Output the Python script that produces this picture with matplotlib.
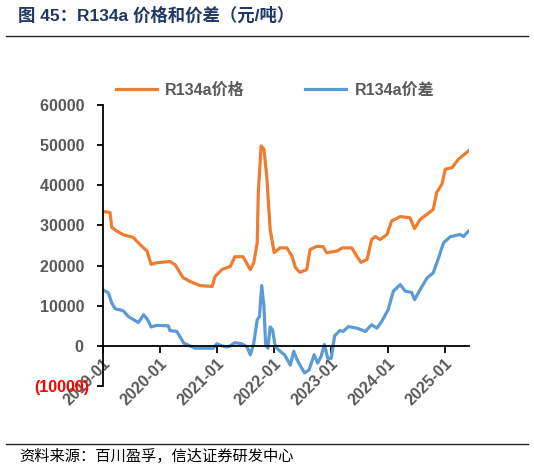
import pandas as pd
import matplotlib.pyplot as plt
import matplotlib.dates as mdates

plt.rcParams['font.family'] = ['Liberation Sans', 'Noto Sans CJK SC', 'DejaVu Sans']

# R134a价格
price_dates = ['2019-01-01', '2019-02-17', '2019-02-28', '2019-04-01', '2019-05-12', '2019-07-16',
               '2019-08-29', '2019-10-12', '2019-11-07', '2019-12-13', '2020-03-07', '2020-04-09',
               '2020-05-30', '2020-07-16', '2020-09-17', '2020-12-03', '2020-12-21', '2021-02-03',
               '2021-03-29', '2021-04-27', '2021-06-18', '2021-08-04', '2021-08-26', '2021-09-17',
               '2021-09-24', '2021-10-12', '2021-10-30', '2021-11-17', '2021-12-09', '2022-01-04',
               '2022-02-10', '2022-03-26', '2022-04-28', '2022-05-20', '2022-06-18', '2022-07-31',
               '2022-08-22', '2022-10-05', '2022-11-14', '2022-12-06', '2023-02-10', '2023-03-15',
               '2023-05-16', '2023-06-18', '2023-07-13', '2023-08-22', '2023-09-20', '2023-10-12',
               '2023-11-14', '2023-12-28', '2024-01-26', '2024-03-21', '2024-05-23', '2024-06-21',
               '2024-07-27', '2024-09-09', '2024-10-19', '2024-11-10', '2024-12-13', '2025-01-04',
               '2025-02-17', '2025-03-29', '2025-06-03']
price = [33500, 33200, 29500, 28600, 27700, 27000,
         25200, 23600, 20300, 20700, 21000, 20200,
         17000, 16000, 15000, 14800, 17300, 19000,
         19800, 22200, 22200, 19000, 20700, 25700,
         38200, 49800, 49000, 42300, 29000, 23200,
         24400, 24400, 22300, 19500, 18300, 19000,
         24000, 24800, 24700, 23200, 23600, 24400,
         24400, 22300, 20800, 21500, 26500, 27200,
         26500, 27750, 31100, 32200, 31900, 29200,
         31500, 32750, 34000, 38200, 40250, 44000,
         44400, 46500, 48600]

# R134a价差
spread_dates = ['2019-01-01', '2019-02-06', '2019-02-28', '2019-03-22', '2019-05-12', '2019-06-14',
                '2019-08-18', '2019-09-20', '2019-10-16', '2019-11-07', '2019-12-13', '2020-02-25',
                '2020-03-07', '2020-04-20', '2020-06-03', '2020-08-15', '2020-12-10', '2021-01-01',
                '2021-02-03', '2021-03-07', '2021-03-29', '2021-04-27', '2021-06-10', '2021-07-13',
                '2021-08-04', '2021-08-26', '2021-09-17', '2021-10-01', '2021-10-16', '2021-10-30',
                '2021-11-10', '2021-11-24', '2021-12-09', '2021-12-24', '2022-01-11', '2022-02-10',
                '2022-03-11', '2022-04-17', '2022-05-09', '2022-05-31', '2022-06-18', '2022-07-17',
                '2022-08-15', '2022-09-17', '2022-10-09', '2022-10-31', '2022-11-22', '2022-12-13',
                '2023-01-04', '2023-01-26', '2023-02-28', '2023-03-22', '2023-04-24', '2023-06-18',
                '2023-08-11', '2023-09-20', '2023-10-23', '2023-11-24', '2024-01-04', '2024-02-06',
                '2024-03-21', '2024-04-23', '2024-06-03', '2024-06-21', '2024-07-27', '2024-09-09',
                '2024-10-19', '2024-11-22', '2024-12-24', '2025-02-06', '2025-04-09', '2025-05-01',
                '2025-05-23', '2025-06-03']
spread = [14000, 13200, 10700, 9250, 8750, 7300,
          5800, 7750, 6500, 4700, 5100, 5000,
          3800, 3600, 700, -600, -600, 500,
          0, -300, 0, 800, 500, -200,
          -2250, 700, 6500, 7300, 15000, 9800,
          250, -600, 4700, 4000, -200, -1350,
          -2200, -4800, -1350, -3500, -4800, -6750,
          -6000, -2200, -4300, -2650, 350, -3100,
          -3100, 2500, 3800, 3600, 4800, 4400,
          3600, 5250, 4400, 6100, 9000, 13600,
          15250, 13600, 13300, 11500, 14000, 16900,
          18200, 21900, 25700, 27200, 27750, 27200,
          28200, 28600]

xtick_dates = ['2019-01-01', '2020-01-01', '2021-01-01', '2022-01-01', '2023-01-01', '2024-01-01', '2025-01-01']
ytick_vals = [-10000, 0, 10000, 20000, 30000, 40000, 50000, 60000]

gray = '#595959'
fig = plt.figure(figsize=(5.34, 4.71), dpi=100)
ax = fig.add_axes([0.1923, 0.1805, 0.686, 0.5966])

# spine first: moving it resets the tick objects
ax.spines['top'].set_visible(False)
ax.spines['right'].set_visible(False)
ax.spines['bottom'].set_position(('data', 0))
ax.spines['bottom'].set_linewidth(1.3)
ax.spines['left'].set_linewidth(1.3)

ax.plot(pd.to_datetime(price_dates), price, color='#ED7D31', lw=2.3, label='R134a价格')
ax.plot(pd.to_datetime(spread_dates), spread, color='#5B9BD5', lw=2.3, label='R134a价差')

ax.set_ylim(-10000, 60000)
ax.set_xlim(pd.Timestamp('2019-01-01'), pd.Timestamp('2025-06-05'))

ax.tick_params(axis='y', direction='out', length=4, width=1.3, pad=6)
ax.tick_params(axis='x', direction='out', length=5, width=1.3, pad=2)

ax.set_yticks(ytick_vals)
ax.set_yticklabels(['(10000)' if v < 0 else str(v) + ' ' for v in ytick_vals])
for t, v in zip(ax.get_yticklabels(), ytick_vals):
    t.set_color('red' if v < 0 else gray)
    t.set_fontweight('bold')
    t.set_fontsize(11.5)

ax.set_xticks(pd.to_datetime(xtick_dates))
ax.set_xticklabels([d[:7] for d in xtick_dates])
for t in ax.get_xticklabels():
    t.set_rotation(45)
    t.set_ha('right')
    t.set_rotation_mode('anchor')
    t.set_color(gray)
    t.set_fontweight('bold')
    t.set_fontsize(11.5)

leg = ax.legend(loc='center left', bbox_to_anchor=(0.019, 1.053), ncol=2, frameon=False,
                borderaxespad=0, handlelength=2.55, handletextpad=0.52, columnspacing=3.8,
                prop={'size': 11.5, 'weight': 'bold'})
for t in leg.get_texts():
    t.set_color(gray)

fig.text(0.034, 0.968, '图 45：R134a 价格和价差（元/吨）', fontsize=12.5, fontweight='bold',
         color='#1F3864', va='center')
fig.add_artist(plt.Line2D([0.011, 0.989], [0.924, 0.924], color='#222222', lw=1.0))
fig.add_artist(plt.Line2D([0.011, 0.989], [0.057, 0.057], color='#222222', lw=1.0))
fig.text(0.036, 0.032, '资料来源：百川盈孚，信达证券研发中心', fontsize=11, style='italic',
         color='black', va='center')

fig.savefig('out.png', dpi=100)
